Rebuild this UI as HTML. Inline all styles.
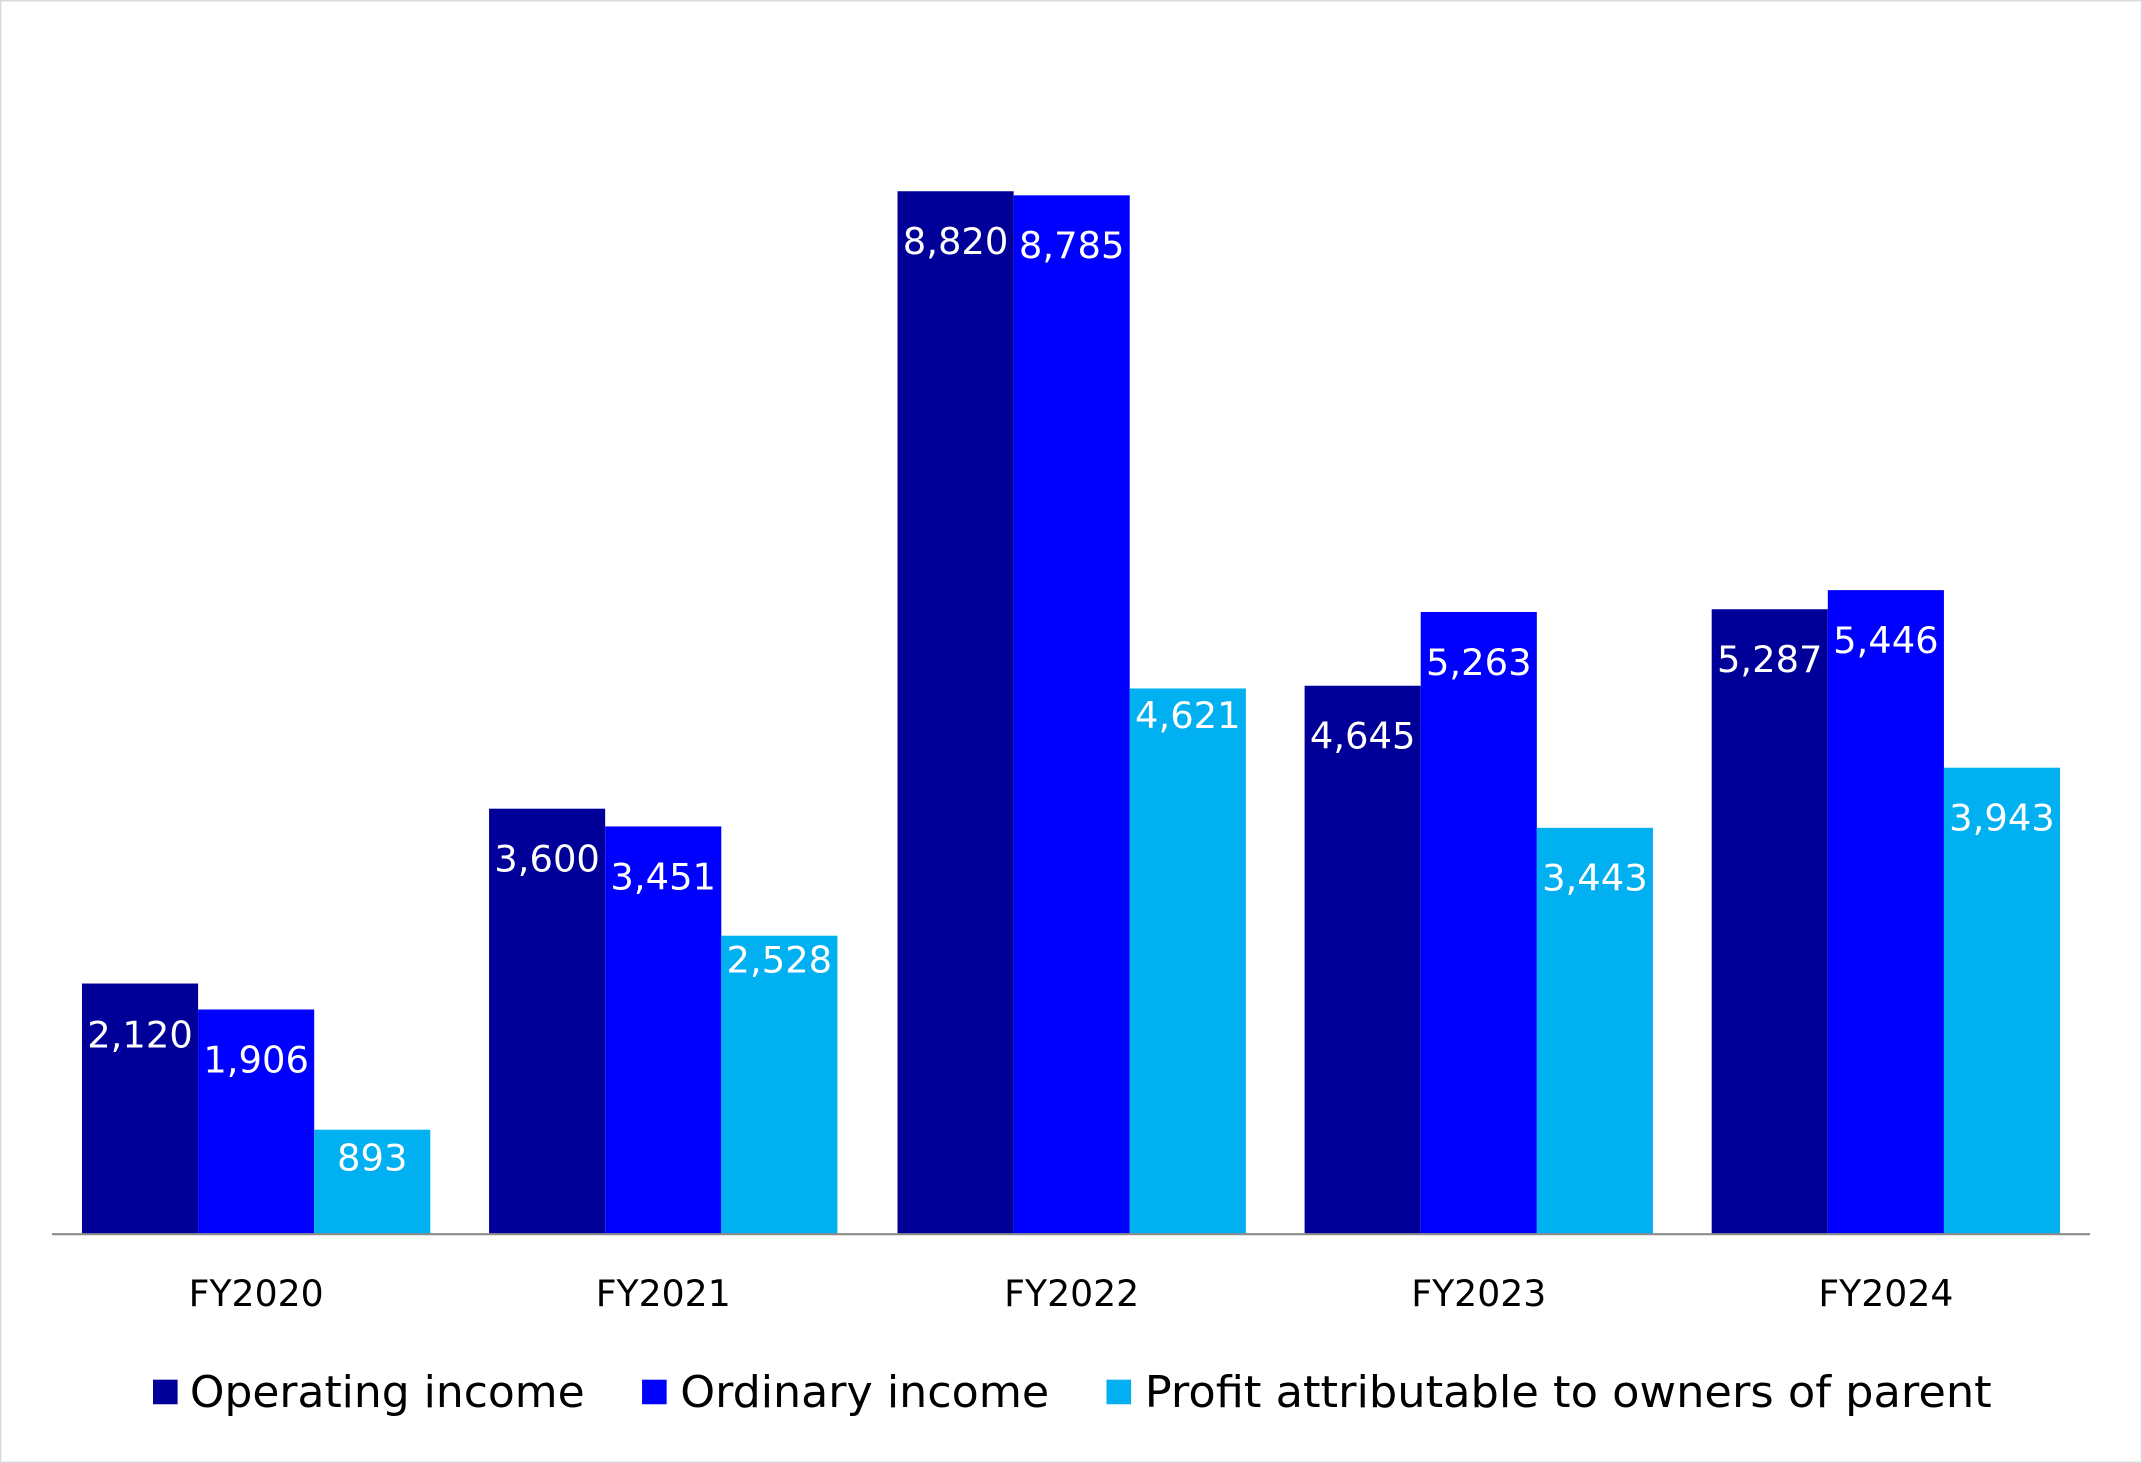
<!DOCTYPE html>
<html><head><meta charset="utf-8"><style>
html,body{margin:0;padding:0;background:#fff;}
svg{display:block;}
text{font-family:"DejaVu Sans","Liberation Sans",sans-serif;}
</style></head><body>
<svg width="2142" height="1463" viewBox="0 0 1568 1071" preserveAspectRatio="none" xmlns="http://www.w3.org/2000/svg">
<rect x="0.5" y="0.5" width="1567" height="1070" fill="#fff" stroke="#d9d9d9" stroke-width="1"/>
<g id="bars">
<rect x="60" y="720" width="85" height="183" fill="#000099"/>
<rect x="145" y="739" width="85" height="164" fill="#0000FF"/>
<rect x="230" y="827" width="85" height="76" fill="#00B0F0"/>
<rect x="358" y="592" width="85" height="311" fill="#000099"/>
<rect x="443" y="605" width="85" height="298" fill="#0000FF"/>
<rect x="528" y="685" width="85" height="218" fill="#00B0F0"/>
<rect x="657" y="140" width="85" height="763" fill="#000099"/>
<rect x="742" y="143" width="85" height="760" fill="#0000FF"/>
<rect x="827" y="504" width="85" height="399" fill="#00B0F0"/>
<rect x="955" y="502" width="85" height="401" fill="#000099"/>
<rect x="1040" y="448" width="85" height="455" fill="#0000FF"/>
<rect x="1125" y="606" width="85" height="297" fill="#00B0F0"/>
<rect x="1253" y="446" width="85" height="457" fill="#000099"/>
<rect x="1338" y="432" width="85" height="471" fill="#0000FF"/>
<rect x="1423" y="562" width="85" height="341" fill="#00B0F0"/>
</g>
<line x1="38" y1="903.5" x2="1530" y2="903.5" stroke="#8c8c8c" stroke-width="1.5"/>
<g fill="#fff" font-size="27" text-anchor="middle">
<text x="102.5" y="767">2,120</text>
<text x="187.5" y="785">1,906</text>
<text x="272.5" y="857">893</text>
<text x="400.5" y="638">3,600</text>
<text x="485.5" y="651">3,451</text>
<text x="570.5" y="712">2,528</text>
<text x="699.5" y="186">8,820</text>
<text x="784.5" y="189">8,785</text>
<text x="869.5" y="533">4,621</text>
<text x="997.5" y="548">4,645</text>
<text x="1082.5" y="494">5,263</text>
<text x="1167.5" y="652">3,443</text>
<text x="1295.5" y="492">5,287</text>
<text x="1380.5" y="478">5,446</text>
<text x="1465.5" y="608">3,943</text>
</g>
<g fill="#000" font-size="26.5" text-anchor="middle">
<text x="187.5" y="956">FY2020</text>
<text x="485.5" y="956">FY2021</text>
<text x="784.5" y="956">FY2022</text>
<text x="1082.5" y="956">FY2023</text>
<text x="1380.5" y="956">FY2024</text>
</g>
<g font-size="32" fill="#000">
<rect x="112" y="1010" width="18" height="18" fill="#000099"/>
<text x="139" y="1030" textLength="289" lengthAdjust="spacingAndGlyphs">Operating income</text>
<rect x="470" y="1010" width="18" height="18" fill="#0000FF"/>
<text x="498" y="1030" textLength="270" lengthAdjust="spacingAndGlyphs">Ordinary income</text>
<rect x="810" y="1010" width="18" height="18" fill="#00B0F0"/>
<text x="838" y="1030" textLength="620" lengthAdjust="spacingAndGlyphs">Profit attributable to owners of parent</text>
</g>
</svg>
</body></html>
